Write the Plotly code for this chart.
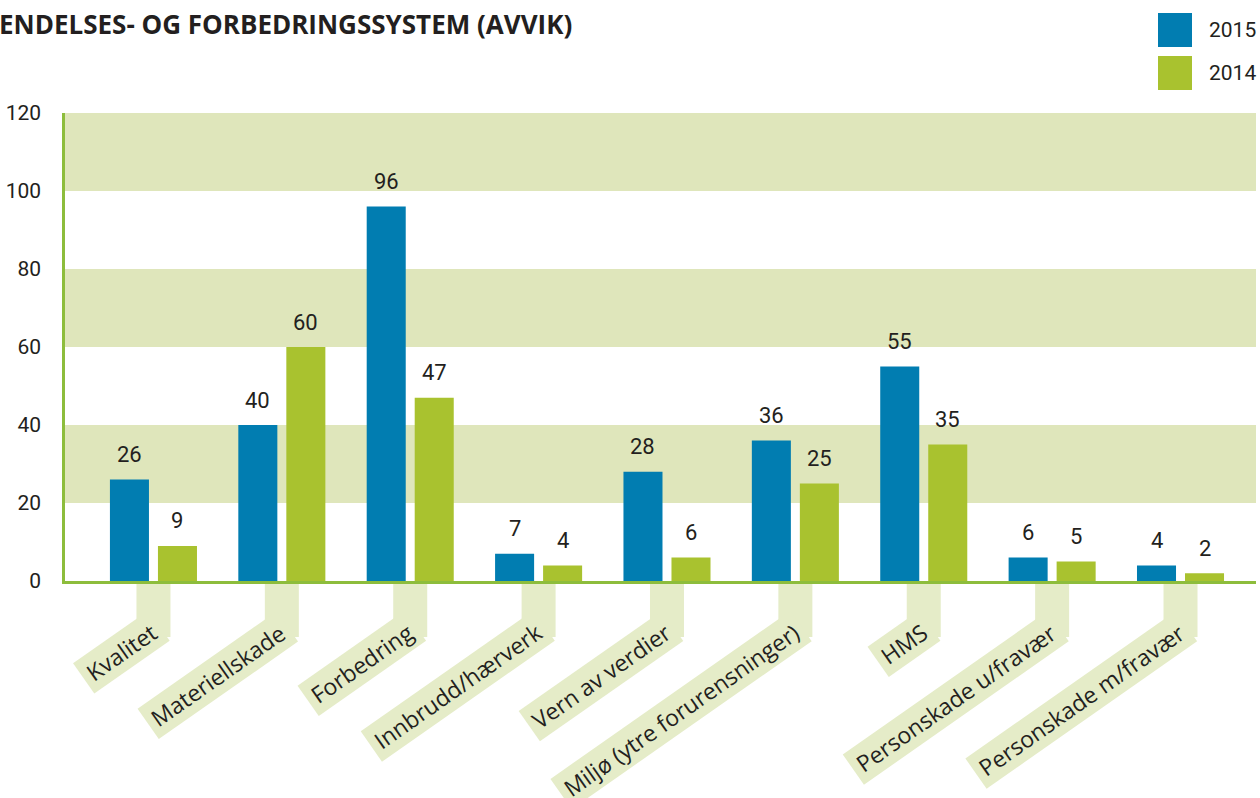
import plotly.graph_objects as go

# ---- data -------------------------------------------------------------
categories = [
    "Kvalitet",
    "Materiellskade",
    "Forbedring",
    "Innbrudd/hærverk",
    "Vern av verdier",
    "Miljø (ytre forurensninger)",
    "HMS",
    "Personskade u/fravær",
    "Personskade m/fravær",
]
values_2015 = [26, 40, 96, 7, 28, 36, 55, 6, 4]
values_2014 = [9, 60, 47, 4, 6, 25, 35, 5, 2]
series_names = ["2015", "2014"]
y_ticks = [0, 20, 40, 60, 80, 100, 120]
title_text = "ENDELSES- OG FORBEDRINGSSYSTEM (AVVIK)"

# ---- style ------------------------------------------------------------
BLUE = "#017db1"
GREEN = "#a9c22f"
BAND = "#dfe6bb"
LABEL_BG = "#e5ecc8"
AXIS_GREEN = "#8dbd3c"
TEXT = "#231f20"
NUM_FONT = "Roboto"
CAT_FONT = "Open Sans"

W, H = 1260, 798
M_L, M_R, M_T, M_B = 65, 4, 113, 217
PLOT_W = W - M_L - M_R
PLOT_H = H - M_T - M_B
X_RANGE = [-0.689, 8.588]
Y_RANGE = [0, 120]

BAR_W = 0.304
OFF_A = -0.339
OFF_B = 0.035


def px_x(px):
    return (px - M_L) / PLOT_W


def px_y(py):
    return (H - M_B - py) / PLOT_H


cat_px = PLOT_W / (X_RANGE[1] - X_RANGE[0])  # pixels per category
idx = list(range(len(categories)))

fig = go.Figure()
fig.add_trace(go.Bar(x=idx, y=values_2015, width=BAR_W, offset=OFF_A,
                     marker=dict(color=BLUE, line=dict(width=0)),
                     name=series_names[0], hoverinfo="y"))
fig.add_trace(go.Bar(x=idx, y=values_2014, width=BAR_W, offset=OFF_B,
                     marker=dict(color=GREEN, line=dict(width=0)),
                     name=series_names[1], hoverinfo="y"))

shapes = []
annotations = []

# alternating background bands
for lo, hi in zip(y_ticks[1::2], y_ticks[2::2]):
    shapes.append(dict(type="rect", xref="paper", yref="y", x0=0, x1=1,
                       y0=lo, y1=hi, fillcolor=BAND, line=dict(width=0),
                       layer="below"))

# value labels above bars
for i, (a, b) in enumerate(zip(values_2015, values_2014)):
    for off, v in ((OFF_A, a), (OFF_B, b)):
        annotations.append(dict(
            x=i + off + BAR_W / 2, y=v, xref="x", yref="y",
            text=str(v), showarrow=False, xanchor="center", yanchor="middle",
            yshift=25, font=dict(family=NUM_FONT, size=22, color=TEXT)))

# category labels: vertical connector + rotated tag
half_conn = 17 / cat_px
for i, cat in enumerate(categories):
    shapes.append(dict(type="rect", xref="x", yref="paper",
                       x0=i - half_conn, x1=i + half_conn,
                       y0=px_y(637), y1=px_y(583),
                       fillcolor=LABEL_BG, line=dict(width=0), layer="below"))
    annotations.append(dict(
        x=i, xref="x", xshift=17, y=px_y(610), yref="paper",
        text="\u2009" + cat + "\u2009", showarrow=False, textangle=-35,
        xanchor="right", yanchor="top", bgcolor=LABEL_BG, borderpad=2,
        font=dict(family=CAT_FONT, size=23, color=TEXT)))

# title
annotations.append(dict(
    x=px_x(-3), y=px_y(24), xref="paper", yref="paper", text="<b>" + title_text + "</b>",
    showarrow=False, xanchor="left", yanchor="middle",
    font=dict(family="Open Sans", size=26, color=TEXT)))

# legend
for k, (name, col) in enumerate(zip(series_names, (BLUE, GREEN))):
    top = 13 + 43 * k
    shapes.append(dict(type="rect", xref="paper", yref="paper",
                       x0=px_x(1158), x1=px_x(1192), y0=px_y(top + 34), y1=px_y(top),
                       fillcolor=col, line=dict(width=0)))
    annotations.append(dict(
        x=px_x(1207), y=px_y(top + 17), xref="paper", yref="paper", text=name,
        showarrow=False, xanchor="left", yanchor="middle",
        font=dict(family=NUM_FONT, size=21, color=TEXT)))

fig.update_layout(
    width=W, height=H,
    margin=dict(l=M_L, r=M_R, t=M_T, b=M_B, pad=0),
    paper_bgcolor="white", plot_bgcolor="white",
    barmode="overlay", showlegend=False,
    shapes=shapes, annotations=annotations,
    xaxis=dict(range=X_RANGE, showticklabels=False, ticks="", showgrid=False,
               zeroline=False, showline=True, linecolor=AXIS_GREEN, linewidth=3,
               fixedrange=True),
    yaxis=dict(range=Y_RANGE, tickvals=y_ticks, ticks="", showgrid=False,
               zeroline=False, showline=True, linecolor=AXIS_GREEN, linewidth=2.5,
               tickfont=dict(family=NUM_FONT, size=21, color=TEXT),
               ticklabelstandoff=17, fixedrange=True),
)

fig.write_html("out.html")
